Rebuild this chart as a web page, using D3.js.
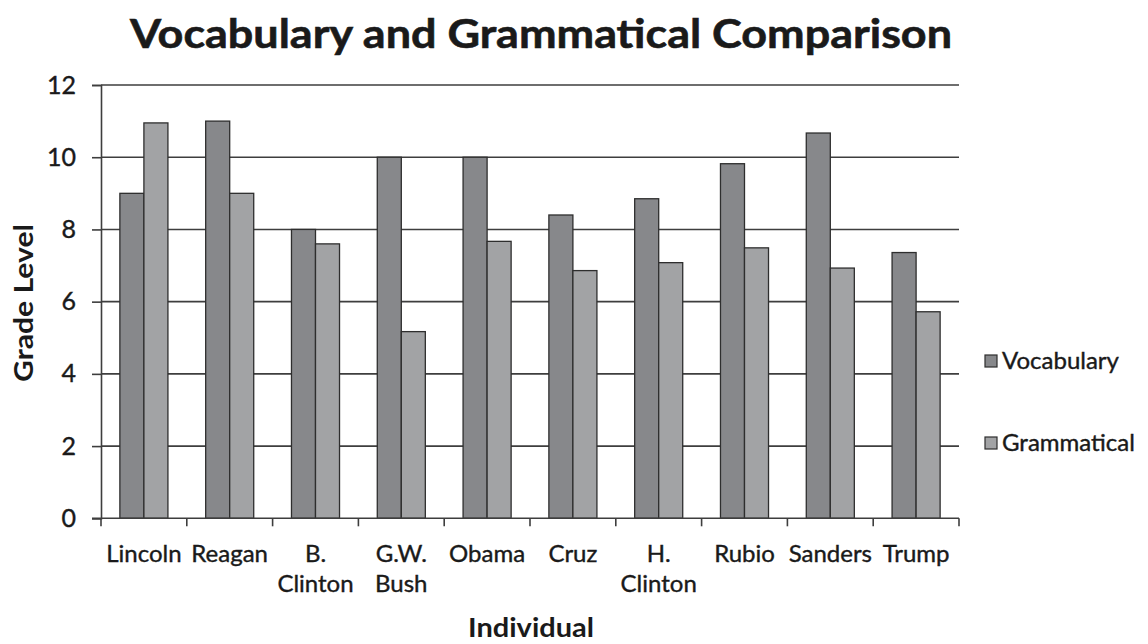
<!DOCTYPE html>
<html>
<head>
<meta charset="utf-8">
<script src="https://cdn.jsdelivr.net/npm/d3@7"></script>
<style>
  html, body { margin: 0; padding: 0; background: #fff; }
  svg { display: block; }
  text { font-family: Lato, "Open Sans", sans-serif; fill: #1a1a1a; }
</style>
</head>
<body>
<svg id="chart" width="1148" height="644"></svg>
<script>
// Reading grade level by speaker
const categories = [["Lincoln"], ["Reagan"], ["B.", "Clinton"], ["G.W.", "Bush"], ["Obama"],
                    ["Cruz"], ["H.", "Clinton"], ["Rubio"], ["Sanders"], ["Trump"]];
const seriesNames = ["Vocabulary", "Grammatical"];
const vocabulary  = [9.0, 11.0, 8.0, 10.0, 10.0, 8.4, 8.85, 9.82, 10.67, 7.36];
const grammatical = [10.95, 9.0, 7.6, 5.17, 7.67, 6.86, 7.08, 7.49, 6.93, 5.72];
const yTicks = [0, 2, 4, 6, 8, 10, 12];

const colors = ["#87888b", "#a2a3a5"];
const svg = d3.select("#chart");
const margin = { left: 101, right: 1148 - 959, top: 85, bottom: 644 - 518.3 };
const W = 1148, H = 644;

const keys = categories.map(c => c.join(" "));
const x = d3.scaleBand().domain(keys).range([margin.left, W - margin.right]);
const y = d3.scaleLinear().domain([0, 12]).range([H - margin.bottom, margin.top]);
const barW = x.bandwidth() * 0.28;

// gridlines
svg.append("g").selectAll("line").data(yTicks.filter(t => t > 0)).join("line")
  .attr("x1", margin.left).attr("x2", W - margin.right)
  .attr("y1", d => y(d)).attr("y2", d => y(d))
  .attr("stroke", "#3e3e3e").attr("stroke-width", 1.6);

// bars
const rows = keys.map((k, i) => ({ k, vals: [vocabulary[i], grammatical[i]] }));
const groups = svg.append("g").selectAll("g").data(rows).join("g")
  .attr("transform", d => `translate(${x(d.k) + x.bandwidth() / 2 - barW},0)`);
groups.selectAll("rect").data(d => d.vals).join("rect")
  .attr("x", (d, j) => j * barW)
  .attr("y", d => y(d))
  .attr("width", barW)
  .attr("height", d => y(0) - y(d))
  .attr("fill", (d, j) => colors[j])
  .attr("stroke", "#2e2e2e").attr("stroke-width", 1.3);

// y axis
const yAxis = svg.append("g").attr("transform", `translate(${margin.left},0)`)
  .call(d3.axisLeft(y).tickValues(yTicks).tickSize(9).tickPadding(16).tickFormat(d3.format("d")));
yAxis.select(".domain").attr("stroke", "#3e3e3e").attr("stroke-width", 1.6);
yAxis.selectAll(".tick line").attr("stroke", "#3e3e3e").attr("stroke-width", 1.6);
yAxis.selectAll("text").style("font-size", "25px").style("font-family", "Lato, sans-serif")
  .attr("fill", "#1a1a1a").attr("stroke", "#1a1a1a").attr("stroke-width", 0.4);

// x axis baseline with boundary ticks
const xg = svg.append("g");
xg.append("line").attr("x1", margin.left - 9).attr("x2", W - margin.right)
  .attr("y1", y(0)).attr("y2", y(0)).attr("stroke", "#3e3e3e").attr("stroke-width", 1.6);
const bounds = keys.map(k => x(k)).concat([x(keys[keys.length - 1]) + x.bandwidth()]);
xg.selectAll("line.tk").data(bounds).join("line").attr("class", "tk")
  .attr("x1", d => d).attr("x2", d => d)
  .attr("y1", y(0)).attr("y2", y(0) + 8)
  .attr("stroke", "#3e3e3e").attr("stroke-width", 1.6);
const lab = xg.selectAll("text").data(categories).join("text")
  .attr("text-anchor", "middle")
  .attr("x", (d, i) => x(keys[i]) + x.bandwidth() / 2)
  .attr("y", 562)
  .attr("stroke", "#1a1a1a").attr("stroke-width", 0.4)
  .style("font-size", "24px");
lab.selectAll("tspan").data(d => d).join("tspan")
  .attr("x", function () { return this.parentNode.getAttribute("x"); })
  .attr("dy", (d, i) => i === 0 ? 0 : 30)
  .text(d => d);

// titles
svg.append("text").attr("x", 541).attr("y", 48).attr("text-anchor", "middle")
  .attr("textLength", 822).attr("lengthAdjust", "spacingAndGlyphs")
  .attr("stroke", "#1a1a1a").attr("stroke-width", 0.6)
  .style("font-size", "40px").style("font-weight", "bold")
  .text("Vocabulary and Grammatical Comparison");
svg.append("text").attr("transform", "translate(33,303) rotate(-90)")
  .attr("text-anchor", "middle").attr("textLength", 158).attr("lengthAdjust", "spacingAndGlyphs")
  .style("font-size", "27px").style("font-weight", "bold")
  .text("Grade Level");
svg.append("text").attr("x", 531).attr("y", 637).attr("text-anchor", "middle")
  .attr("textLength", 126).attr("lengthAdjust", "spacingAndGlyphs")
  .style("font-size", "26px").style("font-weight", "bold").text("Individual");

// legend
const leg = svg.append("g").selectAll("g").data(seriesNames).join("g")
  .attr("transform", (d, i) => `translate(985,${361 + i * 82})`);
leg.append("rect").attr("x", 0).attr("y", -6).attr("width", 12).attr("height", 12)
  .attr("fill", (d, i) => colors[i]).attr("stroke", "#2e2e2e").attr("stroke-width", 1.2);
leg.append("text").attr("x", 17).attr("y", 0).attr("dy", "0.35em")
  .attr("stroke", "#1a1a1a").attr("stroke-width", 0.4)
  .style("font-size", "24px").text(d => d);
</script>
</body>
</html>
